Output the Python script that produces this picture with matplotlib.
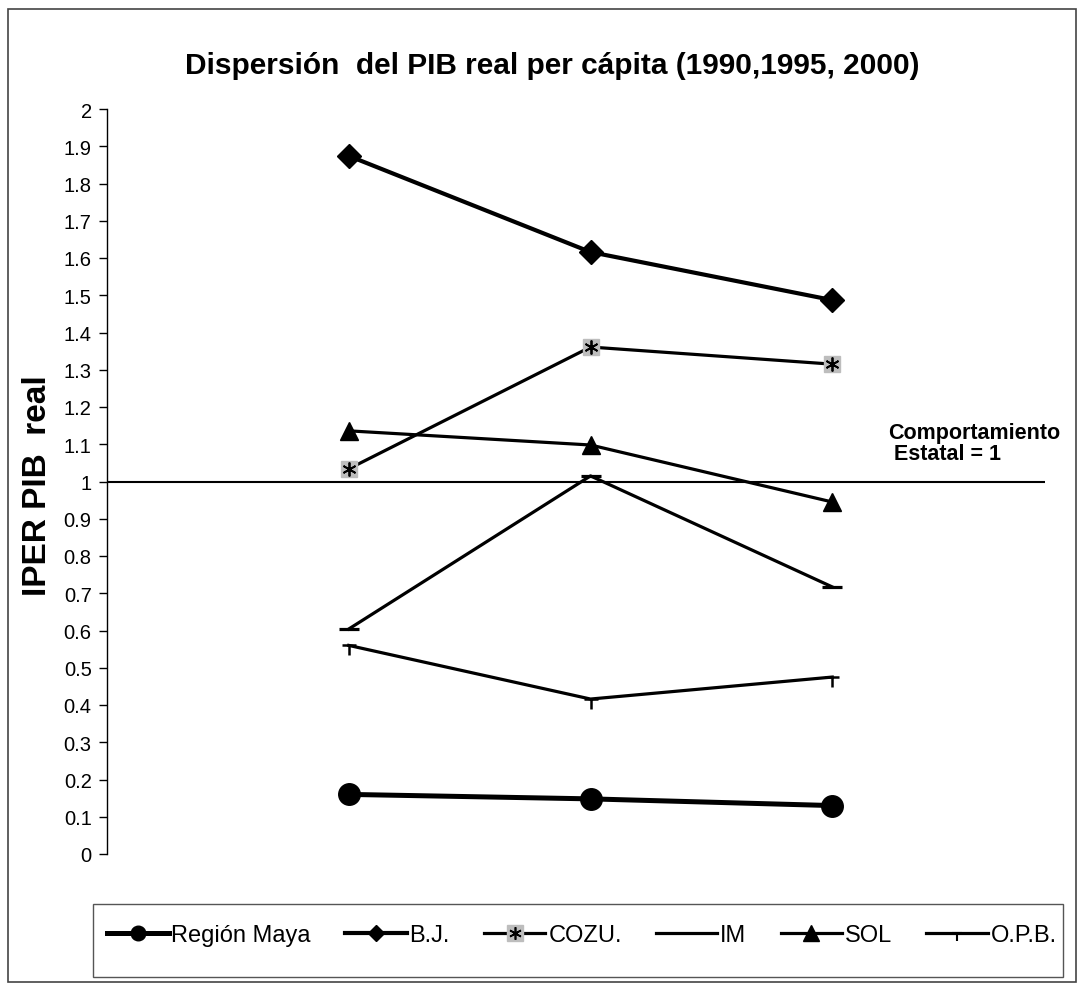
import matplotlib
matplotlib.use("Agg")
import matplotlib.pyplot as plt
from matplotlib.path import Path
from matplotlib.lines import Line2D
from matplotlib.legend_handler import HandlerTuple
from matplotlib.patches import Rectangle
import numpy as np

plt.rcParams['font.family'] = ['Liberation Sans', 'DejaVu Sans']

years = ["1990", "1995", "2000"]
region_maya = [0.16, 0.148, 0.13]
bj = [1.874, 1.616, 1.487]
cozu = [1.034, 1.361, 1.315]
im = [0.604, 1.015, 0.717]
sol = [1.136, 1.098, 0.945]
opb = [0.56, 0.416, 0.475]
estatal = 1.0

title = "Dispersión  del PIB real per cápita (1990,1995, 2000)"
ylabel = "IPER PIB  real"
annot = "Comportamiento\n Estatal = 1"
labels = ["Región Maya", "B.J.", "COZU.", "IM", "SOL", "O.P.B."]
yticks = [round(0.1 * i, 1) for i in range(21)]

x = np.arange(1, len(years) + 1)

fig = plt.figure(figsize=(10.81, 9.87), dpi=100)
ax = fig.add_axes([107/1081, 1 - 855/987, (1045-107)/1081, (855-110)/987])

# T-shaped marker for O.P.B.
t_marker = Path([(-1, 0), (1, 0), (0, 0), (0, -1.6)],
                [Path.MOVETO, Path.LINETO, Path.MOVETO, Path.LINETO])

ax.axhline(estatal, color='black', lw=1.5, zorder=1)

ax.plot(x, region_maya, color='black', lw=3.6, marker='o', ms=15.5, zorder=3)
ax.plot(x, bj, color='black', lw=3.0, marker='D', ms=12, zorder=3)
ax.plot(x, cozu, color='black', lw=2.3, zorder=3)
ax.plot(x, cozu, ls='none', marker='s', ms=11, mfc='#bdbdbd', mec='#bdbdbd', zorder=4)
ax.plot(x, cozu, ls='none', marker=(6, 2, 0), ms=10, mec='black', mew=1.3, zorder=5)
ax.plot(x, im, color='black', lw=2.3, marker='_', ms=14, mew=2.3, zorder=3)
ax.plot(x, sol, color='black', lw=2.3, marker='^', ms=12.5, zorder=3)
ax.plot(x, opb, color='black', lw=2.3, marker=t_marker, ms=15, mew=1.8, zorder=3)

ax.set_xlim(0, 3.88)
ax.set_ylim(0, 2)
ax.set_yticks(yticks)
ax.set_yticklabels(["%g" % v for v in yticks], fontsize=14.5)
ax.set_xticks([])
for s in ['top', 'right', 'bottom']:
    ax.spines[s].set_visible(False)
ax.spines['left'].set_linewidth(1.0)
ax.tick_params(axis='y', direction='out', length=6, width=1, pad=5)

fig.text(552/1081, 1 - 66/987, title, ha='center', va='center',
         fontsize=21.5, fontweight='bold')
fig.text(38/1081, 1 - 486/987, ylabel, ha='center', va='center',
         rotation=90, fontsize=24, fontweight='bold')
fig.text(888/1081, 1 - 444/987, annot, ha='left', va='center',
         fontsize=15.5, fontweight='bold', linespacing=1.05)

# legend proxies (legend markers are drawn smaller, as in the original)
h_rm = Line2D([], [], color='black', lw=3.6, marker='o', ms=10.5)
h_bj = Line2D([], [], color='black', lw=3.0, marker='D', ms=8.5)
h_cz_l = Line2D([], [], color='black', lw=2.3)
h_cz_bg = Line2D([], [], ls='none', marker='s', ms=11.5, mfc='#bdbdbd', mec='#bdbdbd')
h_cz_st = Line2D([], [], ls='none', marker=(6, 2, 0), ms=9, mec='black', mew=1.2)
h_im = Line2D([], [], color='black', lw=2.3)
h_sol = Line2D([], [], color='black', lw=2.3, marker='^', ms=11)
h_opb = Line2D([], [], color='black', lw=2.3, marker=t_marker, ms=11, mew=1.5)

handles = [h_rm, h_bj, (h_cz_l, h_cz_bg, h_cz_st), h_im, h_sol, h_opb]
leg = fig.legend(handles, labels, loc='center',
                 bbox_to_anchor=(582/1081, 1 - 936/987),
                 ncol=6, fontsize=17, frameon=False,
                 handlelength=2.6, handletextpad=0.12, columnspacing=1.45,
                 borderpad=0.0, numpoints=1,
                 handler_map={tuple: HandlerTuple(ndivide=1, pad=0)})

# legend frame
fig.patches.append(Rectangle((93/1081, 1 - 978/987), (1063-93)/1081, (978-905)/987,
                             transform=fig.transFigure, fill=False,
                             edgecolor='#555555', lw=1.0))
# outer frame
fig.patches.append(Rectangle((8/1081, 1 - 983/987), (1076-8)/1081, (983-10)/987,
                             transform=fig.transFigure, fill=False,
                             edgecolor='#444444', lw=1.2))

fig.savefig("out.png", dpi=100)
